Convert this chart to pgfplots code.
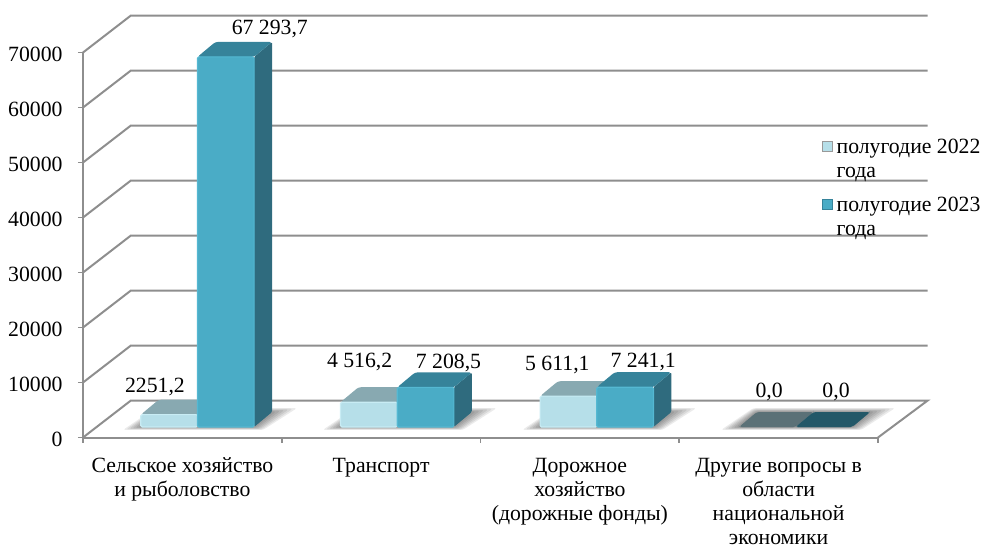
\documentclass[border=0pt]{standalone}
\usepackage{fontspec}
\setmainfont{Liberation Serif}
\usepackage{pgfplots}
\pgfplotsset{compat=1.18}

\newlength\px
\setlength\px{0.75pt}

\definecolor{gridc}{HTML}{8E8E8E}
\definecolor{lightfront}{HTML}{B6DFE9}
\definecolor{lightedge}{HTML}{C8ECF4}
\definecolor{lighttop}{HTML}{88A9B1}
\definecolor{lightside}{HTML}{6F8F97}
\definecolor{darkfront}{HTML}{4AACC6}
\definecolor{darkedge}{HTML}{55B8D2}
\definecolor{darktop}{HTML}{36839A}
\definecolor{darkside}{HTML}{2F6B7E}
\definecolor{zerolight}{HTML}{5B7177}
\definecolor{zerodark}{HTML}{235868}

% x, value, front, top, side, outline of the front
\newcommand\barbox[6]{%
  \addplot[forget plot,fill=#5,draw=none,rounded corners=1pt] coordinates {
    (#1+0.285,1909) (#1+0.3755,4636) (#1+0.3755,#2+4636) (#1+0.285,#2+1909)} --cycle;
  \addplot[forget plot,fill=#4,draw=none,rounded corners=2pt] coordinates {
    (#1,#2+1909) (#1+0.285,#2+1909) (#1+0.3755,#2+4636) (#1+0.0905,#2+4636)} --cycle;
  \addplot[forget plot,fill=#3,draw=#6,line width=0.9pt,rounded corners=1pt] coordinates {
    (#1,1909) (#1+0.285,1909) (#1+0.285,#2+1909) (#1,#2+1909)} --cycle;
}
% x of the left bar, how far the layer spreads
\newcommand\shadowlayer[2]{%
  \addplot[forget plot,fill=black,fill opacity=0.08,draw=none,rounded corners=2pt] coordinates {
    (#1-#2,1909-#2*6000) (#1+0.57+#2*0.5,1909-#2*6000) (#1+0.6605+#2*1.4,4636+#2*8000) (#1+0.0905-#2*0.2,4636+#2*8000)} --cycle;
}
\newcommand\barshadow[1]{%
  \shadowlayer{#1}{0.015}\shadowlayer{#1}{0.03}\shadowlayer{#1}{0.045}%
  \shadowlayer{#1}{0.06}\shadowlayer{#1}{0.075}\shadowlayer{#1}{0.09}%
}

\begin{document}
\begin{tikzpicture}
\fontsize{16.3}{18}\selectfont
\begin{axis}[
  name=a,
  scale only axis,
  width=795\px,
  height=385\px,
  xmin=0, xmax=4,
  ymin=0, ymax=70000,
  clip=false,
  axis x line=bottom,
  axis y line=left,
  axis line style={-,gridc,line width=1.5pt},
  tick align=outside,
  tick style={gridc,line width=1.2pt},
  xtick={0.5,1.5,2.5,3.5},
  xticklabels={
    {Сельское хозяйство\\и рыболовство},
    {Транспорт},
    {Дорожное\\хозяйство\\(дорожные фонды)},
    {Другие вопросы в\\области\\национальной\\экономики}},
  minor xtick={0,1,2,3,4},
  major tick length=0pt,
  minor tick length=5\px,
  xticklabel style={align=center,anchor=north,yshift=-13\px,
    font=\fontsize{16.3}{18}\selectfont},
  ytick={0,10000,...,70000},
  scaled y ticks=false,
  yticklabel style={font=\fontsize{16.3}{18}\selectfont,xshift=-13\px,yshift=-1.5\px},
  extra y ticks={0,10000,...,70000},
  extra y tick labels={},
  extra y tick style={major tick length=5\px},
  /pgf/number format/.cd,
    set thousands separator={},
    assume math mode=true,
  /pgfplots/.cd,
  legend style={
    at={(axis cs:3.715,54300)},anchor=north west,
    draw=none,fill=none,inner sep=0pt,
    font=\fontsize{16.3}{18}\selectfont,
    row sep=40\px,
    column sep=4\px,
    nodes={inner sep=0pt,anchor=base west,xshift=3\px},
  },
  legend cell align=left,
]

% back wall
\addplot[forget plot,gridc,line width=1.5pt] coordinates {(0,0) (0.241,6727) (4.25,6727) (4,0)};
\addplot[forget plot,gridc,line width=1.5pt] coordinates {(0,10000) (0.241,16727) (4.25,16727)};
\addplot[forget plot,gridc,line width=1.5pt] coordinates {(0,20000) (0.241,26727) (4.25,26727)};
\addplot[forget plot,gridc,line width=1.5pt] coordinates {(0,30000) (0.241,36727) (4.25,36727)};
\addplot[forget plot,gridc,line width=1.5pt] coordinates {(0,40000) (0.241,46727) (4.25,46727)};
\addplot[forget plot,gridc,line width=1.5pt] coordinates {(0,50000) (0.241,56727) (4.25,56727)};
\addplot[forget plot,gridc,line width=1.5pt] coordinates {(0,60000) (0.241,66727) (4.25,66727)};
\addplot[forget plot,gridc,line width=1.5pt] coordinates {(0,70000) (0.241,76727) (4.25,76727)};

\barshadow{0.291}
\barshadow{1.296}
\barshadow{2.300}
\barshadow{3.300}

\barbox{0.291}{2251.2}{lightfront}{lighttop}{lightside}{lightedge}
\barbox{0.576}{67293.7}{darkfront}{darktop}{darkside}{darkedge}
\barbox{1.296}{4516.2}{lightfront}{lighttop}{lightside}{lightedge}
\barbox{1.581}{7208.5}{darkfront}{darktop}{darkside}{darkedge}
\barbox{2.300}{5611.1}{lightfront}{lighttop}{lightside}{lightedge}
\barbox{2.585}{7241.1}{darkfront}{darktop}{darkside}{darkedge}
\barbox{3.300}{0.0}{zerolight}{zerolight}{zerolight}{none}
\barbox{3.585}{0.0}{zerodark}{zerodark}{zerodark}{none}

\node at (axis cs:0.94,74272) {67 293,7};
\node at (axis cs:0.362,9181) {2251,2};
\node at (axis cs:1.392,13726) {4 516,2};
\node at (axis cs:1.839,13545) {7 208,5};
\node at (axis cs:2.387,13181) {5 611,1};
\node at (axis cs:2.819,13726) {7 241,1};
\node at (axis cs:3.452,8272) {0,0};
\node at (axis cs:3.789,8272) {0,0};

\addlegendimage{legend image code/.code={
  \draw[fill=lightfront,draw=gray!80,line width=0.8pt] (0,2\px) rectangle (10\px,12\px);}}
\addlegendentry{\parbox[t]{146\px}{\noindent полугодие 2022\\года}}
\addlegendimage{legend image code/.code={
  \draw[fill=darkfront,draw=darktop,line width=0.8pt] (0,2\px) rectangle (10\px,12\px);}}
\addlegendentry{\parbox[t]{146\px}{\noindent полугодие 2023\\года}}

\end{axis}
\pgfresetboundingbox
\path (a.south west) ++(-83\px,-106.5\px) rectangle ++(983\px,544\px);
\end{tikzpicture}
\end{document}
